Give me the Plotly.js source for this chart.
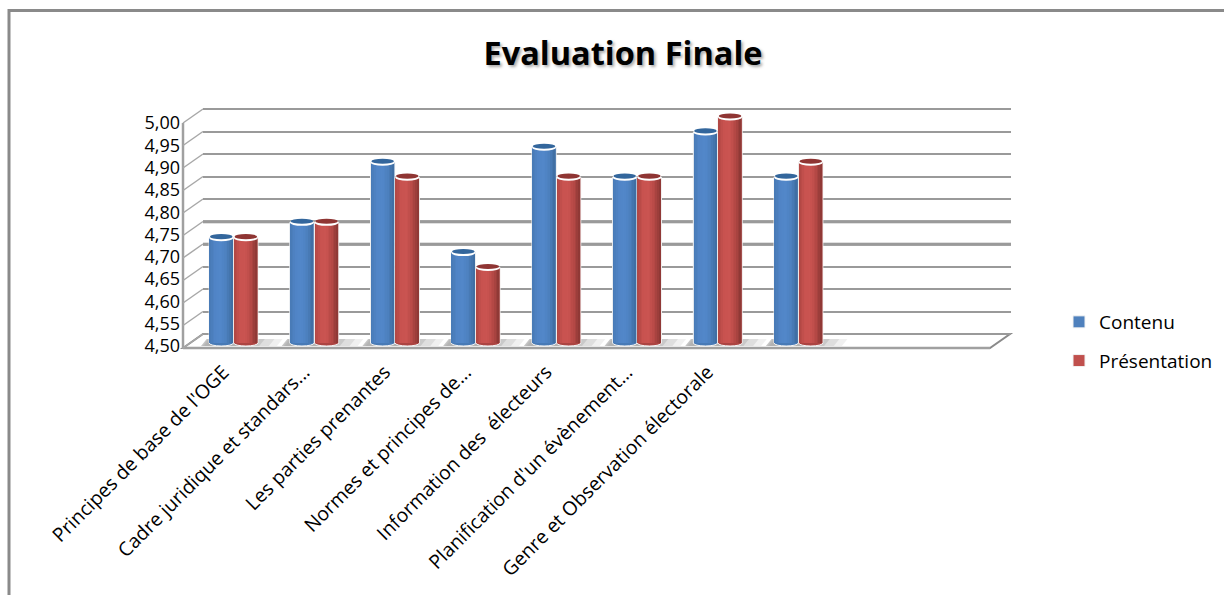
<!DOCTYPE html>
<html><head><meta charset="utf-8"><script src="https://cdn.plot.ly/plotly-3.0.1.min.js"></script>
<style>html,body{margin:0;padding:0;background:#fff}</style></head><body><div id="c" style="width:1224px;height:595px"></div>
<script>
const categories=["Principes de base de l'OGE","Cadre juridique et standars...","Les parties prenantes","Normes et principes de...","Information des  électeurs","Planification d'un évènement...","Genre et Observation électorale",""];
const contenu=[4.733,4.767,4.90,4.70,4.933,4.867,4.967,4.867];
const presentation=[4.733,4.767,4.867,4.667,4.867,4.867,5.00,4.90];
const tickLabels=["4,50","4,55","4,60","4,65","4,70","4,75","4,80","4,85","4,90","4,95","5,00"];
const tickVals=[4.5,4.55,4.6,4.65,4.7,4.75,4.8,4.85,4.9,4.95,5.0];
const heavyTicks=[4.7,4.75];
const FONT='"Open Sans",sans-serif', W=1224, H=595, GREY='#8a8a8a';
const px=v=>v/W, py=v=>1-v/H;
const x=categories.map((_,i)=>i);
const BW=0.3, STRIPS=14;
const mix=(a,b,t)=>'rgb('+a.map((c,i)=>Math.round(c+(b[i]-c)*t)).join(',')+')';
function shade(stops,t){
  const n=stops.length-1, k=Math.min(n-1,Math.floor(t*n));
  return mix(stops[k],stops[k+1],t*n-k);
}
const series=[
 {name:'Contenu',y:contenu,off:-BW,color:'#4f81bd',top:'#33669c',foot:'rgb(72,122,182)',
  stops:[[72,122,180],[80,132,198],[82,135,202],[76,128,190],[62,108,160]]},
 {name:'Présentation',y:presentation,off:0.005,color:'#c0504d',top:'#8f3533',foot:'rgb(172,68,66)',
  stops:[[176,70,67],[200,82,79],[202,84,81],[180,72,69],[138,54,52]]}
];
const traces=[];
traces.push({type:'scatter',mode:'markers',x:tickVals.map(()=>0),y:tickVals,xaxis:'x',yaxis:'y',marker:{opacity:0},showlegend:false,hoverinfo:'skip'});
traces.push({type:'scatter',mode:'markers',x:tickVals.map(()=>0),y:tickVals,xaxis:'x2',yaxis:'y3',marker:{opacity:0},showlegend:false,hoverinfo:'skip'});
series.forEach(s=>{
  traces.push({type:'bar',name:s.name,legendgroup:s.name,x:x,y:s.y,xaxis:'x2',yaxis:'y2',width:x.map(()=>BW),offset:x.map(()=>s.off),
    marker:{color:s.color,line:{color:'#f2f2f2',width:1}}});
  for(let k=0;k<STRIPS;k++){
    const w=BW*0.94/STRIPS, o=s.off+BW*0.03+k*w;
    traces.push({type:'bar',showlegend:false,hoverinfo:'skip',x:x,y:s.y,xaxis:'x2',yaxis:'y2',width:x.map(()=>w*1.15),offset:x.map(()=>o),
      marker:{color:shade(s.stops,(k+0.5)/STRIPS),line:{width:0}}});
  }
});
const shapes=[];
// outer frame: left and top only
shapes.push({type:'path',xref:'paper',yref:'paper',path:`M ${px(9)} ${py(600)} L ${px(9)} ${py(10.5)} L ${px(1230)} ${py(10.5)}`,line:{color:GREY,width:3},layer:'below'});
// floor and side wall
shapes.push({type:'path',xref:'paper',yref:'paper',path:`M ${px(183)} ${py(348)} L ${px(203)} ${py(334)} L ${px(1010)} ${py(334)} L ${px(990)} ${py(348)} Z`,line:{color:GREY,width:2},fillcolor:'#ffffff',layer:'below'});
shapes.push({type:'line',xref:'paper',yref:'paper',x0:px(183),x1:px(183),y0:py(123),y1:py(349),line:{color:'#a0a0a0',width:2.5},layer:'below'});
shapes.push({type:'line',xref:'paper',yref:'paper',x0:px(183),x1:px(990),y0:py(348),y1:py(348),line:{color:'#a0a0a0',width:2.5},layer:'below'});
tickVals.forEach(v=>{
  const yf=348-(v-4.5)*450;
  shapes.push({type:'line',xref:'paper',yref:'paper',x0:px(183),x1:px(203),y0:py(yf),y1:py(yf-14),line:{color:'#a8a8a8',width:1.5},layer:'below'});
});
heavyTicks.forEach(v=>{
  shapes.push({type:'line',xref:'paper',yref:'y',x0:px(203),x1:px(1011),y0:v,y1:v,line:{color:'#858585',width:3},layer:'below'});
});
const feetY=py(343);
x.forEach(i=>{
  [[0.40,0.20,0.30],[0.40,0.32,0.22],[0.38,0.44,0.16],[0.36,0.54,0.12]].forEach(([l,r,o])=>{
    shapes.push({type:'path',xref:'x2',yref:'paper',path:`M ${i-l} ${py(346)} L ${i-l+0.07} ${py(339)} L ${i+r+0.07} ${py(339)} L ${i+r} ${py(346)} Z`,fillcolor:'#808080',opacity:o,line:{width:0},layer:'below'});
  });
  series.forEach(s=>{
    shapes.push({type:'circle',xref:'x2',yref:'paper',ysizemode:'pixel',yanchor:feetY,x0:i+s.off,x1:i+s.off+BW,y0:-3,y1:3,fillcolor:s.foot,line:{color:'#f4f4f4',width:1},layer:'below'});
    shapes.push({type:'circle',xref:'x2',yref:'y2',ysizemode:'pixel',yanchor:s.y[i],x0:i+s.off,x1:i+s.off+BW,y0:-3.5,y1:3,fillcolor:'#ffffff',line:{width:0},layer:'above'});
    shapes.push({type:'circle',xref:'x2',yref:'y2',ysizemode:'pixel',yanchor:s.y[i],x0:i+s.off+0.01,x1:i+s.off+BW-0.01,y0:-1.5,y1:3.6,fillcolor:s.top,line:{width:0},layer:'above'});
  });
});
const layout={width:W,height:H,margin:{l:0,r:0,t:0,b:0,autoexpand:false},paper_bgcolor:'#fff',plot_bgcolor:'rgba(0,0,0,0)',
 font:{family:FONT,color:'#000'},
 title:{text:'<b>Evaluation Finale</b>',font:{size:32.5,family:FONT,color:'#000',shadow:'2px 2px 3px #aaa'},xref:'paper',x:623/W,xanchor:'center',yref:'paper',y:py(54),yanchor:'middle'},
 barmode:'overlay',showlegend:true,
 legend:{x:px(1059),y:py(303),xanchor:'left',yanchor:'top',font:{size:19},traceorder:'grouped',tracegroupgap:11,bgcolor:'rgba(0,0,0,0)'},
 xaxis:{domain:[px(203),px(1010.5)],range:[0,1],visible:false,fixedrange:true},
 yaxis:{domain:[py(338.8),py(104.8)],range:[4.49,5.01],tickmode:'array',tickvals:tickVals,showticklabels:false,showgrid:true,gridcolor:'#9a9a9a',gridwidth:2,showline:false,ticks:'',zeroline:false,anchor:'x'},
 xaxis2:{domain:[px(193),px(1000)],range:[-0.5,9.5],anchor:'y2',tickmode:'array',tickvals:x,ticktext:categories,tickangle:-45,tickfont:{size:19.4},ticklen:0,ticks:'',ticklabelstandoff:13,ticklabelshift:-10,showgrid:false,showline:false,zeroline:false},
 yaxis2:{domain:[py(343),py(108)],range:[4.5,5.02],anchor:'x2',visible:false,showgrid:false},
 yaxis3:{domain:[py(346),py(123)],range:[4.5,5.0],anchor:'free',position:px(180),side:'left',tickmode:'array',tickvals:tickVals,ticktext:tickLabels,tickfont:{size:18},showgrid:false,showline:false,zeroline:false,ticks:''},
 shapes:shapes
};
Plotly.newPlot('c',traces,layout,{displayModeBar:false});
</script></body></html>
